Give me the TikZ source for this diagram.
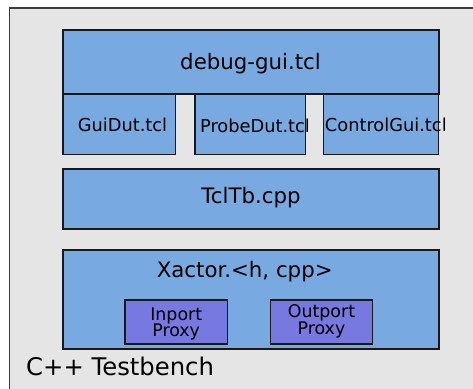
\documentclass[tikz,border=0pt]{standalone}
\usepackage{fontspec}
\setmainfont{DejaVu Sans}
\usetikzlibrary{fit}
\definecolor{panelgray}{RGB}{229,229,229}
\definecolor{layerblue}{RGB}{120,170,225}
\definecolor{proxyblue}{RGB}{120,120,225}
\definecolor{edge}{RGB}{25,25,25}
\tikzset{
  layerbox/.style={draw=edge, fill=layerblue, line width=1.3pt, inner sep=0pt},
  proxybox/.style={draw=edge, fill=proxyblue, line width=1.3pt, inner sep=0pt},
  bigtext/.style={anchor=base, inner sep=0pt, font=\fontsize{21.3}{25}\selectfont},
  midtext/.style={anchor=base, inner sep=0pt, font=\fontsize{17.8}{21}\selectfont},
  proxytext/.style={anchor=north, inner sep=0pt, align=center,
    font=\fontsize{17.4}{16.7}\selectfont},
}
\begin{document}
\begin{tikzpicture}[x=1pt,y=-1pt]
  \clip (0,0) rectangle (473,388);
  \fill[white] (0,0) rectangle (473,388);
  % testbench panel, running off the right and bottom edges
  \draw[fill=panelgray, draw=edge!85, line width=1.3pt] (9.5,8) rectangle (490,410);

  % debug-gui layer and its three scripts
  \node[layerbox, fit={(63,30) (439,94)}] (gui) {};
  \node[bigtext] (guiT) at (250.5,69.3) {debug-gui.tcl};
  \node[layerbox, fit={(63,94) (175.5,154.5)}] (guidut) {};
  \node[midtext] (guidutT) at (122.5,131) {GuiDut.tcl};
  \node[layerbox, fit={(195,94) (305.5,154.5)}] (probe) {};
  \node[midtext] (probeT) at (255,132.3) {ProbeDut.tcl};
  \node[layerbox, fit={(323.5,94) (438.5,154.5)}] (ctrl) {};
  \node[midtext] (ctrlT) at (385.8,131) {ControlGui.tcl};

  % Tcl testbench layer
  \node[layerbox, fit={(63,169) (439,229)}] (tcltb) {};
  \node[bigtext] (tcltbT) at (251,203.3) {TclTb.cpp};

  % transactor layer with its proxies
  \node[layerbox, fit={(63,250) (439,349)}] (xactor) {};
  \node[bigtext] (xactorT) at (244.7,277.7) {Xactor.<h, cpp>};
  \node[proxybox, fit={(125,300) (227.3,344)}] (inport) {};
  \node[proxytext] (inportT) at (176.2,307.3) {Inport\\Proxy};
  \node[proxybox, fit={(270.3,300) (372.7,344)}] (outport) {};
  \node[proxytext] (outportT) at (321.5,304.5) {Outport\\Proxy};

  \node[anchor=base west, inner sep=0pt, font=\fontsize{24.3}{28}\selectfont]
    (tbT) at (26,375.7) {C++ Testbench};
\end{tikzpicture}
\end{document}
